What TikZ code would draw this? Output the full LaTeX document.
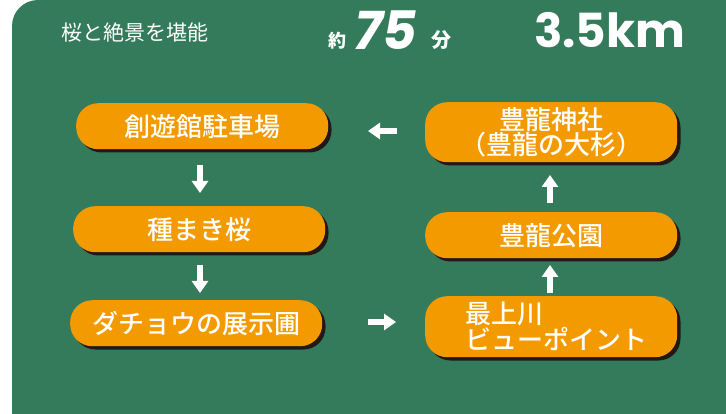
\documentclass[tikz,border=0pt]{standalone}
\usepackage{fontspec}
\setmainfont{Noto Sans CJK JP}
\newfontfamily\cjkm{Noto Sans CJK JP Medium}
\newfontfamily\numfont{Poppins}
\definecolor{bggreen}{HTML}{337B5A}
\definecolor{pillorange}{HTML}{F39A00}
\definecolor{shadowc}{HTML}{231815}
\usetikzlibrary{arrows.meta}
\tikzset{
  pill/.style={fill=pillorange, rounded corners=22pt, minimum width=252pt, minimum height=46pt, inner sep=0pt,
    text=white, font=\cjkm\fontsize{26}{27}\selectfont},
  flowarrow/.style={white, line width=6pt, -{Triangle[width=16pt,length=12pt]}},
}
\begin{document}
\begin{tikzpicture}[x=1pt,y=-1pt]
\useasboundingbox (0,0) rectangle (726,414);
\fill[bggreen] (12,414) -- (12,26) arc[start angle=180,end angle=270,radius=26] -- (726,0) -- (726,414) -- cycle;

% shadows
\foreach \x/\y/\w/\h in {76/103/252/46, 73/206/252/46, 70/300/252/46, 425/102/252/60, 425/212/252/46, 425/296/252/61}{
  \fill[shadowc, rounded corners=22pt] (\x+3.5,\y+3.5) rectangle ++(\w,\h);
}

\node[pill, anchor=north west] (p1) at (76,103) {創遊館駐車場};
\node[pill, anchor=north west] (p2) at (73,206) {種まき桜};
\node[pill, anchor=north west] (p3) at (70,300) {ダチョウの展示圃};
\node[pill, anchor=north west, minimum height=60pt, align=center, font=\cjkm\fontsize{26}{25}\selectfont] (p6) at (425,102) {豊龍神社\\（豊龍の大杉）};
\node[pill, anchor=north west, minimum height=61pt, align=left, text width=212pt, font=\cjkm\fontsize{26}{26}\selectfont] (p4) at (425,296) {\hspace*{20pt}最上川\\\hspace*{20pt}ビューポイント};
\node[pill, anchor=north west] (p5) at (425,212) {豊龍公園};

% arrows
\coordinate (a1s) at (200,165); \coordinate (a1e) at (200,193);
\coordinate (a2s) at (200,265); \coordinate (a2e) at (200,293);
\coordinate (a3s) at (368,322); \coordinate (a3e) at (396,322);
\coordinate (a4s) at (550,293); \coordinate (a4e) at (550,265);
\coordinate (a5s) at (550,203); \coordinate (a5e) at (550,175);
\coordinate (a6s) at (397,131); \coordinate (a6e) at (368,131);
\draw[flowarrow] (a1s) -- (a1e);
\draw[flowarrow] (a2s) -- (a2e);
\draw[flowarrow] (a3s) -- (a3e);
\draw[flowarrow] (a4s) -- (a4e);
\draw[flowarrow] (a5s) -- (a5e);
\draw[flowarrow] (a6s) -- (a6e);

% header
\node[text=white, anchor=west, font=\fontsize{21}{21}\selectfont, inner sep=0pt] (h1) at (61,33) {桜と絶景を堪能};
\node[text=white, anchor=base west, font=\cjkm\bfseries\fontsize{18}{18}\selectfont, inner sep=0pt] (h2) at (328,48) {約};
\node[text=white, anchor=base west, font=\numfont\bfseries\itshape\fontsize{53}{53}\selectfont, inner sep=0pt] (h3) at (354,50) {75};
\node[text=white, anchor=base west, font=\cjkm\bfseries\fontsize{20}{20}\selectfont, inner sep=0pt] (h4) at (431,48) {分};
\node[text=white, anchor=base west, font=\numfont\bfseries\fontsize{47}{47}\selectfont, inner sep=0pt] (h5) at (534,48) {3.5km};
\end{tikzpicture}
\end{document}
